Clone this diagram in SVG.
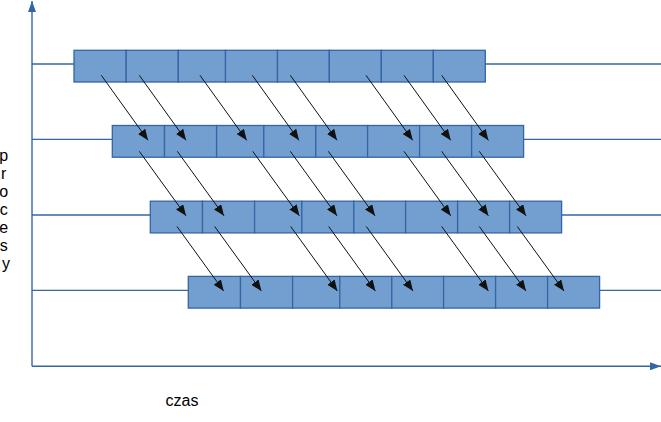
<svg xmlns="http://www.w3.org/2000/svg" width="661" height="422" viewBox="0 0 661 422">
<style>
.cell{fill:#729fcf;stroke:#3465a4;stroke-width:1.3}
.track{stroke:#3465a4;stroke-width:1.3;fill:none}
.axis{stroke:#3465a4;stroke-width:1.4;fill:none}
.flow{stroke:#111;stroke-width:1;fill:none;marker-end:url(#ah)}
.lbl{font-family:"Liberation Sans",Arial,sans-serif;font-size:16px;fill:#000}
</style>
<defs>
<marker id="ah" markerUnits="userSpaceOnUse" markerWidth="12" markerHeight="9" refX="11" refY="4.5" orient="auto"><path d="M0,0 L11,4.5 L0,9 z" fill="#111"/></marker>
<marker id="ax" markerUnits="userSpaceOnUse" markerWidth="12" markerHeight="8" refX="11" refY="4" orient="auto"><path d="M0,0 L11,4 L0,8 z" fill="#3465a4"/></marker>
<g id="rowcells">
<rect class="cell" x="0" y="0" width="52.2" height="31.7"/>
<rect class="cell" x="52.2" y="0" width="52.1" height="31.7"/>
<rect class="cell" x="104.3" y="0" width="47.2" height="31.7"/>
<rect class="cell" x="151.5" y="0" width="52" height="31.7"/>
<rect class="cell" x="203.5" y="0" width="51.8" height="31.7"/>
<rect class="cell" x="255.3" y="0" width="52" height="31.7"/>
<rect class="cell" x="307.3" y="0" width="52" height="31.7"/>
<rect class="cell" x="359.3" y="0" width="52" height="31.7"/>
</g>
</defs>
<rect width="661" height="422" fill="#fff"/>
<g id="axes">
<line class="axis" x1="32" y1="366.3" x2="32" y2="1" marker-end="url(#ax)"/>
<line class="axis" x1="32" y1="366.3" x2="661" y2="366.3" marker-end="url(#ax)"/>
</g>
<g id="tracks">
<line class="track" x1="32" y1="64" x2="74" y2="64"/>
<line class="track" x1="485.3" y1="64" x2="661" y2="64"/>
<line class="track" x1="32" y1="139.3" x2="112.3" y2="139.3"/>
<line class="track" x1="523.6" y1="139.3" x2="661" y2="139.3"/>
<line class="track" x1="32" y1="215" x2="150.3" y2="215"/>
<line class="track" x1="561.6" y1="215" x2="661" y2="215"/>
<line class="track" x1="32" y1="290.3" x2="188.3" y2="290.3"/>
<line class="track" x1="599.6" y1="290.3" x2="661" y2="290.3"/>
</g>
<g id="process1"><use href="#rowcells" x="74" y="50.3"/></g>
<g id="process2"><use href="#rowcells" x="112.3" y="125.5"/></g>
<g id="process3"><use href="#rowcells" x="150.3" y="201.2"/></g>
<g id="process4"><use href="#rowcells" x="188.3" y="276.4"/></g>
<g id="connectors">
<line class="flow" x1="101.3" y1="75.3" x2="148" y2="140.3"/>
<line class="flow" x1="139.3" y1="75.3" x2="186" y2="140.3"/>
<line class="flow" x1="200" y1="75.3" x2="246.7" y2="140.3"/>
<line class="flow" x1="252.3" y1="75.3" x2="299" y2="140.3"/>
<line class="flow" x1="290.3" y1="75.3" x2="337" y2="140.3"/>
<line class="flow" x1="366" y1="75.3" x2="412.7" y2="140.3"/>
<line class="flow" x1="404" y1="75.3" x2="450.7" y2="140.3"/>
<line class="flow" x1="441.7" y1="75.3" x2="488.4" y2="140.3"/>
<line class="flow" x1="139.3" y1="151.3" x2="186" y2="215.8"/>
<line class="flow" x1="177.3" y1="151.3" x2="224" y2="215.8"/>
<line class="flow" x1="252.7" y1="151.3" x2="299.4" y2="215.8"/>
<line class="flow" x1="290.3" y1="151.3" x2="337" y2="215.8"/>
<line class="flow" x1="328.3" y1="151.3" x2="375" y2="215.8"/>
<line class="flow" x1="404" y1="151.3" x2="450.7" y2="215.8"/>
<line class="flow" x1="441.7" y1="151.3" x2="488.4" y2="215.8"/>
<line class="flow" x1="479.3" y1="151.3" x2="526" y2="215.8"/>
<line class="flow" x1="177" y1="226.5" x2="223.7" y2="291"/>
<line class="flow" x1="214.7" y1="226.5" x2="261.4" y2="291"/>
<line class="flow" x1="290.7" y1="226.5" x2="337.4" y2="291"/>
<line class="flow" x1="328.7" y1="226.5" x2="375.4" y2="291"/>
<line class="flow" x1="366.3" y1="226.5" x2="413" y2="291"/>
<line class="flow" x1="441.7" y1="226.5" x2="488.4" y2="291"/>
<line class="flow" x1="479.3" y1="226.5" x2="526" y2="291"/>
<line class="flow" x1="517.3" y1="226.5" x2="564" y2="291"/>
</g>
<g id="labels">
<text class="lbl" x="182" y="406.3" text-anchor="middle">czas</text>
<text class="lbl" text-anchor="middle">
<tspan x="6" y="161.3">p</tspan>
<tspan x="6" y="179.2">r</tspan>
<tspan x="6" y="197.1">o</tspan>
<tspan x="6" y="215">c</tspan>
<tspan x="6" y="232.9">e</tspan>
<tspan x="6" y="250.8">s</tspan>
<tspan x="6" y="268.7">y</tspan>
</text>
</g>
</svg>
